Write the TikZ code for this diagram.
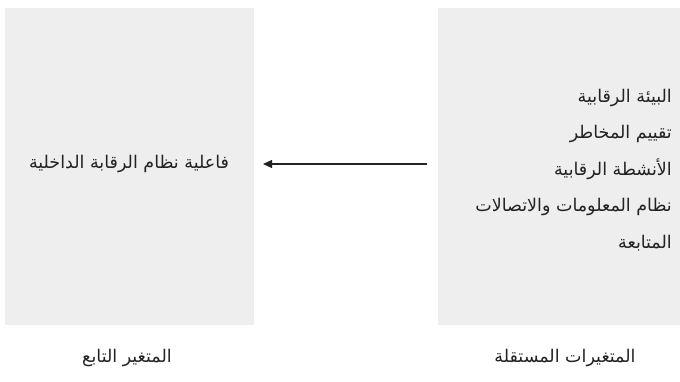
\documentclass[tikz,border=0pt]{standalone}
\usepackage{fontspec}
\usetikzlibrary{arrows.meta}
\TeXXeTstate=1
\newfontfamily\arabicfont[Script=Arabic]{DejaVu Sans}
\definecolor{boxgrey}{HTML}{EEEEEE}
\definecolor{txt}{HTML}{222222}
\tikzset{
  panel/.style={fill=boxgrey, draw=none, inner sep=0pt, outer sep=0pt},
  artext/.style={font=\arabicfont\fontsize{17.5}{36.5}\selectfont, text=txt, inner sep=0pt},
  conn/.style={draw=txt, line width=1.2pt, -{Triangle[length=9pt,width=8pt]}},
}
\begin{document}
\begin{tikzpicture}[x=1pt,y=-1pt]
\useasboundingbox (0,0) rectangle (680,381);
\node[panel, minimum width=249pt, minimum height=317pt, anchor=north west] (L) at (5,8) {};
\node[panel, minimum width=242pt, minimum height=317pt, anchor=north west] (R) at (438,8) {};
\node[artext] (dep) at (129,164) {\beginR فاعلية نظام الرقابة الداخلية\endR};
\node[artext, align=right, anchor=east] (ind) at (672,170) {\beginR البيئة الرقابية\endR\\ \beginR تقييم المخاطر\endR\\ \beginR الأنشطة الرقابية\endR\\ \beginR نظام المعلومات والاتصالات\endR\\ \beginR المتابعة\endR};
\node[artext] (depl) at (127,358) {\beginR المتغير التابع\endR};
\node[artext] (indl) at (565,358) {\beginR المتغيرات المستقلة\endR};
\draw[conn, shorten <=11pt, shorten >=9pt] ([yshift=2.5pt]R.west) -- ([yshift=2.5pt]L.east);
\end{tikzpicture}
\end{document}
